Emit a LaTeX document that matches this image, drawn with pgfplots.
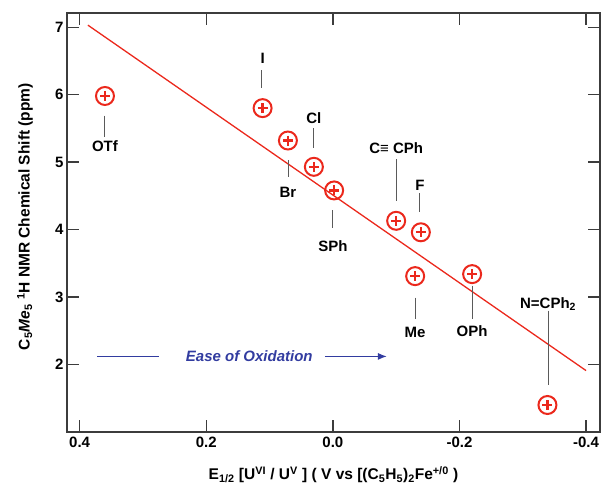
\documentclass[border=0pt]{standalone}
\usepackage{fontspec}
\setmainfont{Liberation Sans}
\usepackage{pgfplots}
\pgfplotsset{compat=1.18}
\usetikzlibrary{arrows.meta}
\definecolor{ptred}{RGB}{235,40,28}
\definecolor{axgray}{RGB}{60,60,60}
\definecolor{leadgray}{RGB}{90,90,90}
\definecolor{oxblue}{RGB}{50,60,160}
\newcommand{\lab}{\bfseries\fontsize{15}{17}\selectfont}
\begin{document}
\begin{tikzpicture}
\begin{axis}[
  scale only axis,
  width=533pt, height=419pt,
  x dir=reverse,
  xmin=-0.422, xmax=0.42,
  ymin=1, ymax=7.21,
  xtick={-0.4,-0.2,0,0.2,0.4},
  xticklabels={-0.4,-0.2,0.0,0.2,0.4},
  ytick={2,3,4,5,6,7},
  yticklabels={2,3,4,5,6,7},
  major tick length=12pt,
  tick style={axgray, line width=1.3pt},
  axis line style={axgray, line width=1.5pt},
  tick label style={font=\lab},
  xticklabel style={yshift=-1pt},
  xlabel={E\textsubscript{1/2} [U\textsuperscript{VI} / U\textsuperscript{V} ] ( V vs [(C\textsubscript{5}H\textsubscript{5})\textsubscript{2}Fe\textsuperscript{+/0} )},
  ylabel={C\textsubscript{5}\textit{Me}\textsubscript{5} \textsuperscript{1}H NMR Chemical Shift (ppm)},
  xlabel style={font=\bfseries\fontsize{15.5}{17}\selectfont, at={(axis description cs:0.5,-0.1026)}, anchor=center},
  ylabel style={font=\bfseries\fontsize{15.5}{17}\selectfont, at={(axis description cs:-0.0788,0.514)}, anchor=center},
  clip=false,
]
% fit line
\addplot[ptred, line width=1.3pt] coordinates {(0.387,7.03) (-0.40,1.91)};
% data points
\addplot[only marks, mark=o, mark size=9pt, ptred, mark options={line width=2pt}] coordinates {
  (0.360,5.98) (0.111,5.80) (0.071,5.32) (0.030,4.93) (-0.002,4.58)
  (-0.100,4.13) (-0.139,3.96) (-0.130,3.31) (-0.220,3.34) (-0.339,1.40)};
\addplot[only marks, mark=+, mark size=5pt, ptred, mark options={line width=2.2pt}] coordinates {
  (0.360,5.98) (0.111,5.80) (0.071,5.32) (0.030,4.93) (-0.002,4.58)
  (-0.100,4.13) (-0.139,3.96) (-0.130,3.31) (-0.220,3.34) (-0.339,1.40)};
% leader lines
\begin{scope}[leadgray, line width=1pt]
\draw (axis cs:0.360,5.69) -- (axis cs:0.360,5.37);
\draw (axis cs:0.112,6.36) -- (axis cs:0.112,6.10);
\draw (axis cs:0.0696,5.03) -- (axis cs:0.0696,4.78);
\draw (axis cs:0.030,5.50) -- (axis cs:0.030,5.21);
\draw (axis cs:0.000,4.29) -- (axis cs:0.000,4.02);
\draw (axis cs:-0.100,5.04) -- (axis cs:-0.100,4.42);
\draw (axis cs:-0.1375,4.54) -- (axis cs:-0.1375,4.26);
\draw (axis cs:-0.130,2.99) -- (axis cs:-0.130,2.68);
\draw (axis cs:-0.220,3.17) -- (axis cs:-0.220,2.67);
\draw (axis cs:-0.340,2.80) -- (axis cs:-0.340,1.69);
\end{scope}
% labels
\node[font=\lab] at (axis cs:0.360,5.23) {OTf};
\node[font=\lab] at (axis cs:0.111,6.54) {I};
\node[font=\lab] at (axis cs:0.071,4.55) {Br};
\node[font=\lab] at (axis cs:0.030,5.65) {Cl};
\node[font=\lab] at (axis cs:0.000,3.75) {SPh};
\node[font=\lab] at (axis cs:-0.100,5.20) {C≡ CPh};
\node[font=\lab] at (axis cs:-0.1375,4.66) {F};
\node[font=\lab] at (axis cs:-0.130,2.47) {Me};
\node[font=\lab] at (axis cs:-0.220,2.49) {OPh};
\node[font=\lab] at (axis cs:-0.340,2.90) {N=CPh\textsubscript{2}};
% ease of oxidation
\draw[oxblue, line width=1.2pt] (axis cs:0.372,2.12) -- (axis cs:0.274,2.12);
\node[font=\bfseries\itshape\fontsize{15}{17}\selectfont, text=oxblue] at (axis cs:0.132,2.12) {Ease of Oxidation};
\draw[oxblue, line width=1.2pt, -{Latex[length=9pt,width=7pt]}] (axis cs:0.0127,2.12) -- (axis cs:-0.0854,2.12);
\end{axis}
\pgfresetboundingbox
\path ([shift={(-67pt,-53pt)}]current axis.south west) rectangle ([shift={(1pt,13pt)}]current axis.north east);
\end{tikzpicture}
\end{document}
